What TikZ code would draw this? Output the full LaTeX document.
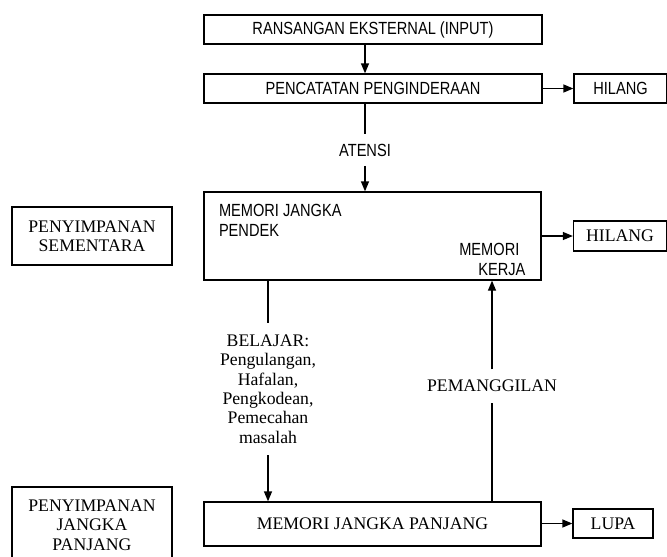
\documentclass[tikz,border=0pt]{standalone}
\usepackage{fontspec}
\setmainfont{Liberation Serif}
\setsansfont[FakeStretch=0.83]{Liberation Sans}
\usetikzlibrary{arrows.meta,calc}
\begin{document}
\begin{tikzpicture}[x=1pt,y=-1pt,line width=1.3pt,>={Triangle[length=10pt,width=8pt]},
		kotak/.style={draw,inner sep=0pt},
		sans/.style={font=\sffamily\fontsize{17.6}{20}\selectfont},
		serif/.style={font=\rmfamily\fontsize{17.7}{19.4}\selectfont}]
	\useasboundingbox (0,0) rectangle (667,557);
	% kotak utama
	\node[kotak,sans,minimum width=338pt,minimum height=29pt] (input) at (373,29.5) {RANSANGAN EKSTERNAL (INPUT)};
	\node[kotak,sans,minimum width=338pt,minimum height=29pt] (indera) at (373,88.5) {PENCATATAN PENGINDERAAN};
	\node[kotak,sans,minimum width=93pt,minimum height=29pt] (hilangA) at (620.5,88.5) {HILANG};
	\node[kotak,minimum width=337pt,minimum height=88pt] (pendek) at (372.5,236) {};
	\node[kotak,serif,minimum width=93pt,minimum height=30pt] (hilangB) at (620,236) {HILANG};
	\node[kotak,serif,align=center,minimum width=160pt,minimum height=58pt] (sementara) at (92,236) {PENYIMPANAN\\SEMENTARA};
	\node[kotak,serif,minimum width=337pt,minimum height=44pt] (panjang) at (372.5,524) {MEMORI JANGKA PANJANG};
	\node[kotak,serif,minimum width=80pt,minimum height=29pt] (lupa) at (613,523.5) {LUPA};
	\node[kotak,serif,align=center,minimum width=160pt,minimum height=76pt] (simpan) at (92,525) {PENYIMPANAN\\JANGKA\\PANJANG};
	% teks di dalam memori jangka pendek
	\node[sans,align=left,anchor=north west,inner sep=0pt] (stm) at ($(pendek.north west)+(15,12)$) {MEMORI JANGKA\\PENDEK};
	\node[sans,align=left,anchor=north west,inner sep=0pt] (kerja) at ($(pendek.south east)+(-83,-38)$) {MEMORI\\\hspace*{19pt}KERJA};
	% label panah
	\node[sans,inner ysep=9pt] (atensi) at (365,150) {ATENSI};
	\node[serif,align=center,inner ysep=11pt] (belajar) at (268,389) {BELAJAR:\\Pengulangan,\\Hafalan,\\Pengkodean,\\Pemecahan\\masalah};
	\node[serif,inner ysep=10pt] (panggil) at (492,386) {PEMANGGILAN};
	% panah
	\draw[->] (input.south -| atensi) -- (indera.north -| atensi);
	\draw[->] (indera) -- (hilangA);
	\draw (indera.south -| atensi) -- (atensi.north);
	\draw[->] (atensi.south) -- (pendek.north -| atensi);
	\draw[->] (pendek.east |- hilangB) -- (hilangB);
	\draw (pendek.south -| belajar) -- (belajar.north);
	\draw[->] (belajar.south) -- (panjang.north -| belajar);
	\draw (panjang.north -| panggil) -- (panggil.south);
	\draw[->] (panggil.north) -- (pendek.south -| panggil);
	\draw[->] (panjang.east |- lupa) -- (lupa);
\end{tikzpicture}
\end{document}
